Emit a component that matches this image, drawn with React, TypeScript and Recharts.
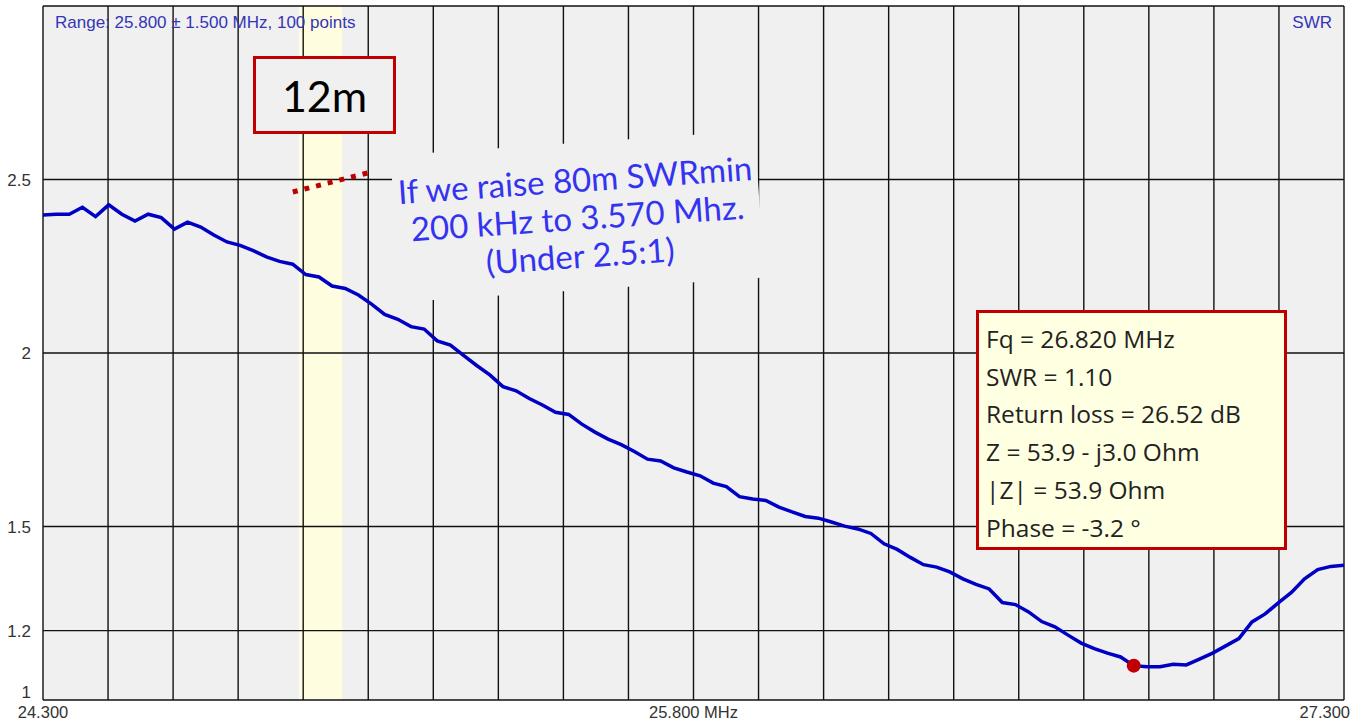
import React from 'react'
import { LineChart, Line, XAxis, YAxis, ReferenceArea, ReferenceLine, ReferenceDot } from 'recharts'

// sweep: 25.800 ± 1.500 MHz, 100 points
const startMHz = 24.3
const stopMHz = 27.3

// SWR, one value per sweep point
const swr = [
  2.398, 2.4, 2.4, 2.42, 2.393, 2.427, 2.4, 2.38, 2.4, 2.39,
  2.357, 2.377, 2.363, 2.34, 2.32, 2.31, 2.295, 2.277, 2.264, 2.256,
  2.226, 2.219, 2.193, 2.186, 2.167, 2.141, 2.111, 2.097, 2.076, 2.069,
  2.035, 2.023, 1.993, 1.964, 1.937, 1.903, 1.891, 1.869, 1.85, 1.829,
  1.823, 1.795, 1.772, 1.752, 1.736, 1.716, 1.694, 1.689, 1.669, 1.657,
  1.646, 1.625, 1.615, 1.586, 1.579, 1.575, 1.556, 1.542, 1.529, 1.524,
  1.513, 1.501, 1.493, 1.48, 1.45, 1.434, 1.411, 1.39, 1.383, 1.369,
  1.349, 1.333, 1.32, 1.281, 1.275, 1.254, 1.226, 1.211, 1.187, 1.164,
  1.148, 1.135, 1.124, 1.099, 1.096, 1.096, 1.103, 1.101, 1.118, 1.135,
  1.156, 1.177, 1.225, 1.248, 1.28, 1.31, 1.349, 1.376, 1.385, 1.388
]

const xTicks = [24.3, 25.8, 27.3]
const yTicks = [1, 1.2, 1.5, 2, 2.5]
const gridFreqs = [
  24.3, 24.45, 24.6, 24.75, 24.9, 25.05, 25.2, 25.35, 25.5, 25.65, 25.8,
  25.95, 26.1, 26.25, 26.4, 26.55, 26.7, 26.85, 27.0, 27.15, 27.3
]
const gridSwr = [1, 1.2, 1.5, 2, 2.5, 3]

// 12m amateur band
const band12m = [24.89, 24.99]
// dotted "raised SWR" marker
const raisedLine = [
  { x: 24.876, y: 2.464 },
  { x: 25.049, y: 2.519 }
]
const markerIndex = 83

const markerInfo = [
  'Fq = 26.820 MHz',
  'SWR = 1.10',
  'Return loss = 26.52 dB',
  'Z = 53.9 - j3.0 Ohm',
  '|Z| = 53.9 Ohm',
  'Phase = -3.2 °'
]
const noteLines = ['If we raise 80m SWRmin', '200 kHz to 3.570 Mhz.', '(Under 2.5:1)']

const data = swr.map((v, i) => ({
  f: startMHz + (i * (stopMHz - startMHz)) / (swr.length - 1),
  swr: v
}))

const axisFont = '"Liberation Sans", Arial, sans-serif'

function XTick(props: any) {
  const { x, y, payload } = props
  const v = payload.value
  let anchor: 'start' | 'middle' | 'end' = 'middle'
  let dx = 0
  let label = v.toFixed(3)
  if (Math.abs(v - 25.8) < 0.001) label = label + ' MHz'
  if (Math.abs(v - stopMHz) < 0.001) {
    anchor = 'end'
    dx = 6
  }
  return (
    <text x={x + dx} y={y + 10} textAnchor={anchor} fontSize={16.5} fontFamily={axisFont} fill="#333">
      {label}
    </text>
  )
}

function YTick(props: any) {
  const { y, payload } = props
  const v = payload.value
  const shift = v === 1 ? -8 : 0
  return (
    <text x={31} y={y + 6 + shift} textAnchor="end" fontSize={17} fontFamily={axisFont} fill="#333">
      {String(v)}
    </text>
  )
}

export default function App() {
  return (
    <div style={{ position: 'absolute', left: 0, top: 0, width: 1372, height: 722, background: '#fff' }}>
      <style>{'body{margin:0}'}</style>
      <LineChart width={1372} height={722} data={data} margin={{ top: 6, right: 28, bottom: 0, left: 0 }}>
        <XAxis
          dataKey="f"
          type="number"
          domain={[startMHz, stopMHz]}
          ticks={xTicks}
          interval={0}
          height={22}
          axisLine={false}
          tickLine={false}
          tick={<XTick />}
          allowDataOverflow
        />
        <YAxis
          type="number"
          domain={[1, 3]}
          ticks={yTicks}
          interval={0}
          width={43}
          axisLine={false}
          tickLine={false}
          tick={<YTick />}
          allowDataOverflow
        />
        <ReferenceArea x1={startMHz} x2={stopMHz} y1={1} y2={3} fill="#f0f0f0" fillOpacity={1} stroke="none" />
        <ReferenceArea x1={band12m[0]} x2={band12m[1]} y1={1} y2={3} fill="#fefddf" fillOpacity={1} stroke="none" />
        {gridFreqs.map((f) => (
          <ReferenceLine key={'v' + f} x={f} stroke="#111" strokeWidth={1.4} ifOverflow="visible" />
        ))}
        {gridSwr.map((s) => (
          <ReferenceLine key={'h' + s} y={s} stroke="#111" strokeWidth={1.4} ifOverflow="visible" />
        ))}
        <ReferenceLine
          segment={raisedLine}
          stroke="#c00000"
          strokeWidth={5}
          strokeDasharray="5 7"
          ifOverflow="visible"
        />
        <Line
          type="linear"
          dataKey="swr"
          stroke="#0000c4"
          strokeWidth={3.5}
          dot={false}
          activeDot={false}
          isAnimationActive={false}
        />
        <ReferenceDot
          x={data[markerIndex].f}
          y={data[markerIndex].swr}
          r={7}
          fill="#c00000"
          stroke="none"
          ifOverflow="visible"
        />
      </LineChart>

      <div
        style={{
          position: 'absolute', left: 55, top: 13, fontFamily: axisFont, fontSize: 17,
          color: '#3535b5', whiteSpace: 'nowrap'
        }}
      >
        Range: 25.800 ± 1.500 MHz, 100 points
      </div>
      <div
        style={{
          position: 'absolute', right: 40, top: 13, fontFamily: axisFont, fontSize: 17, color: '#3535b5'
        }}
      >
        SWR
      </div>

      <div
        style={{
          position: 'absolute', left: 253, top: 56, width: 143, height: 78, boxSizing: 'border-box',
          border: '3px solid #c00000', background: '#f0f0f0', display: 'flex', alignItems: 'center',
          justifyContent: 'center', fontFamily: 'Lato, sans-serif', fontSize: 43, color: '#000'
        }}
      >
        12m
      </div>

      <div
        style={{
          position: 'absolute', left: 395, top: 143, width: 365, height: 147, background: '#f0f0f0',
          transform: 'rotate(-3.9deg)', display: 'flex', flexDirection: 'column', alignItems: 'center',
          justifyContent: 'center', fontFamily: 'Lato, sans-serif', fontSize: 33, lineHeight: '38px',
          color: '#3434f0', whiteSpace: 'nowrap'
        }}
      >
        {noteLines.map((t) => (
          <div key={t}>{t}</div>
        ))}
      </div>

      <div
        style={{
          position: 'absolute', left: 976, top: 310, width: 311, height: 240, boxSizing: 'border-box',
          border: '3px solid #c00000', background: '#ffffe1', padding: '7px 0 0 7px',
          fontFamily: '"Open Sans", sans-serif', fontSize: 24.5, lineHeight: '37.7px', color: '#222',
          whiteSpace: 'nowrap'
        }}
      >
        {markerInfo.map((t) => (
          <div key={t}>{t}</div>
        ))}
      </div>
    </div>
  )
}
